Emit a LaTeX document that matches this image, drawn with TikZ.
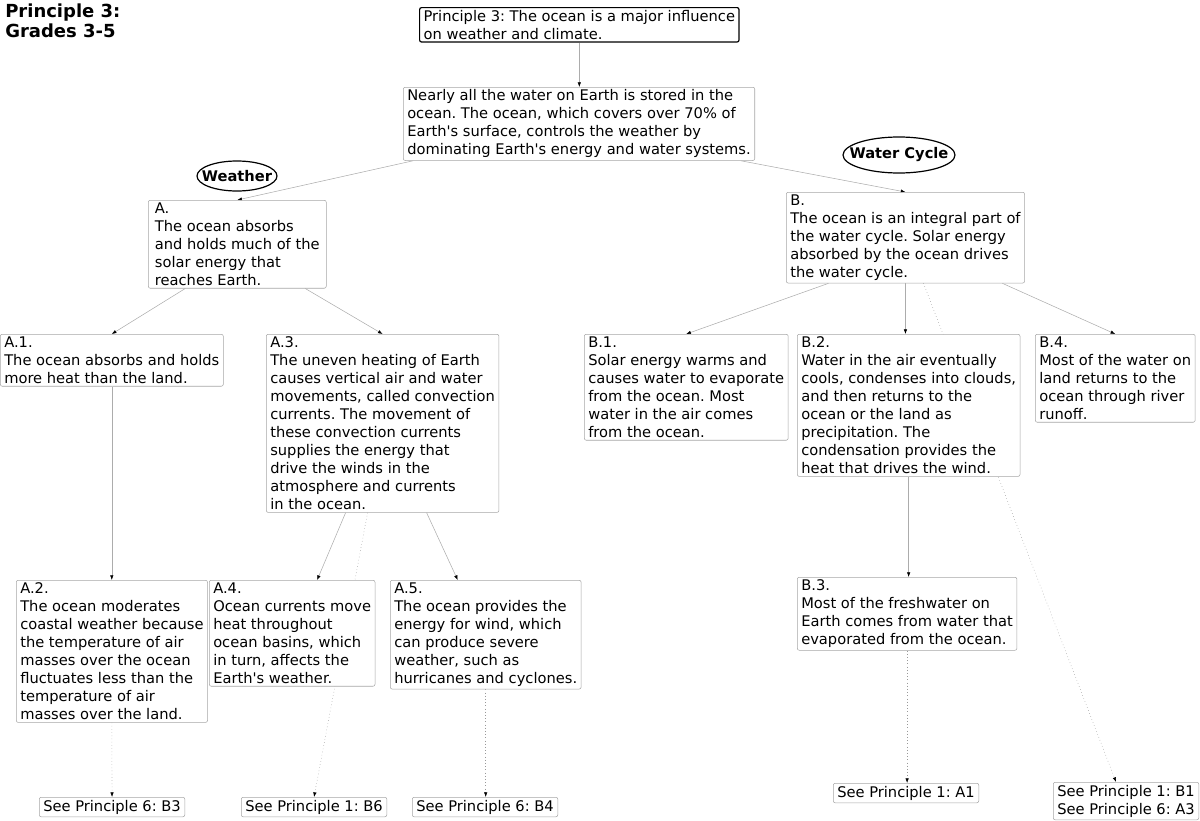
\documentclass[tikz,border=0pt]{standalone}
\usepackage{fontspec}
\setmainfont{DejaVu Sans}
\usetikzlibrary{arrows.meta,positioning,shapes.geometric,backgrounds,calc}
\newcommand{\ap}{\textquotesingle}

\begin{document}
\begin{tikzpicture}[
  x=0.75pt, y=-0.75pt,
  font=\fontsize{11}{13.5}\selectfont\frenchspacing,
  concept/.style={draw=gray!70, rounded corners=1.5pt, fill=white, anchor=north west,
                  align=left, inner xsep=3pt, inner ysep=1.9pt},
  root/.style={concept, draw=black, line width=0.9pt},
  seeref/.style={concept, inner ysep=2pt},
  topic/.style={inner sep=0pt, font=\fontsize{11}{13.5}\selectfont\bfseries},
  ring/.style={draw, line width=0.9pt},
  heading/.style={anchor=north west, align=left, inner sep=0pt,
                  font=\fontsize{13.5}{15}\selectfont\bfseries},
  arr/.style={-{Latex[length=3.5pt, width=2.6pt, color=black]}, draw=gray!65, line width=0.4pt},
  dots/.style={arr, dotted, draw=gray!80}
]
\useasboundingbox (0,0) rectangle (1200,821);

\node[heading] (ttl) at (5,4) {Principle 3:\\Grades 3-5};

\node[root] (top) at (419,7)
  {Principle 3: The ocean is a major influence\\on weather and climate.};
\node[concept] (core) at (403,87)
  {Nearly all the water on Earth is stored in the\\ocean. The ocean, which covers over 70\% of\\Earth\ap s surface, controls the weather by\\dominating Earth\ap s energy and water systems.};

\node[topic] (weather) at (237,176) {Weather};
\draw[ring] (weather.center) ellipse [x radius=30pt, y radius=11.25pt];
\node[topic] (cycle) at (899,155) {Water Cycle};
\draw[ring] (cycle.center) ellipse [x radius=42pt, y radius=13.5pt];

% weather branch
\node[concept, minimum width=133.5pt] (A) at (148,200)
  {A.\\The ocean absorbs\\and holds much of the\\solar energy that\\reaches Earth.};
\node[concept] (A1) at (0,334)
  {A.1.\\The ocean absorbs and holds\\more heat than the land.};
\node[concept] (A3) at (266,334)
  {A.3.\\The uneven heating of Earth\\causes vertical air and water\\movements, called convection\\currents. The movement of\\these convection currents\\supplies the energy that\\drive the winds in the\\atmosphere and currents\\in the ocean.};
\node[concept] (A2) at (16,580)
  {A.2.\\The ocean moderates\\coastal weather because\\the temperature of air\\masses over the ocean\\fluctuates less than the\\temperature of air\\masses over the land.};
\node[concept] (A4) at (209,580)
  {A.4.\\Ocean currents move\\heat throughout\\ocean basins, which\\in turn, affects the\\Earth\ap s weather.};
\node[concept] (A5) at (390,580)
  {A.5.\\The ocean provides the\\energy for wind, which\\can produce severe\\weather, such as\\hurricanes and cyclones.};

% water cycle branch
\node[concept] (B) at (786,192)
  {B.\\The ocean is an integral part of\\the water cycle. Solar energy\\absorbed by the ocean drives\\the water cycle.};
\node[concept] (B1) at (584,334)
  {B.1.\\Solar energy warms and\\causes water to evaporate\\from the ocean. Most\\water in the air comes\\from the ocean.};
\node[concept] (B2) at (797,334)
  {B.2.\\Water in the air eventually\\cools, condenses into clouds,\\and then returns to the\\ocean or the land as\\precipitation. The\\condensation provides the\\heat that drives the wind.};
\node[concept] (B4) at (1035,334)
  {B.4.\\Most of the water on\\land returns to the\\ocean through river\\runoff.};
\node[concept] (B3) at (797,577)
  {B.3.\\Most of the freshwater on\\Earth comes from water that\\evaporated from the ocean.};

% cross references
\node[seeref] (seeB3) at (39,797) {See Principle 6: B3};
\node[seeref] (seeB6) at (241,797) {See Principle 1: B6};
\node[seeref] (seeB4) at (412,797) {See Principle 6: B4};
\node[seeref] (seeA1) at (833,783) {See Principle 1: A1};
\node[seeref] (seeB1) at (1053,782) {See Principle 1: B1\\See Principle 6: A3};

\begin{scope}[on background layer]
  \draw[arr] (top.south) -- (top.south |- core.north);
  \draw[arr] ($(core.south west)+(10,0)$) -- (A.north);
  \draw[arr] ($(core.south east)+(-14,0)$) -- (B.north);

  \draw[arr] ($(A.south)+(-52,0)$) -- (A1.north);
  \draw[arr] ($(A.south)+(68,0)$) -- (A3.north);
  \draw[arr] (A1.south) -- (A1.south |- A2.north);
  \draw[arr] ($(A3.south)+(-37,0)$) -- ($(A4.north)+(25,0)$);
  \draw[arr] ($(A3.south)+(44,0)$) -- ($(A5.north)+(-28,0)$);
  \draw[dots] ($(A3.south)+(-15,0)$) -- (seeB6.north);
  \draw[dots] (A2.south) -- (seeB3.north);
  \draw[dots] (A5.south) -- (A5.south |- seeB4.north);

  \draw[arr] ($(B.south)+(-77,0)$) -- (B1.north);
  \draw[arr] (B.south) -- (B.south |- B2.north);
  \draw[arr] ($(B.south)+(97,0)$) -- (B4.north);
  \draw[dots] ($(B.south)+(18,0)$) -- ($(seeB1.north)+(-10,0)$);
  \draw[arr] (B2.south) -- (B2.south |- B3.north);
  \draw[dots] (B3.south) -- (B3.south |- seeA1.north);
\end{scope}
\end{tikzpicture}
\end{document}
